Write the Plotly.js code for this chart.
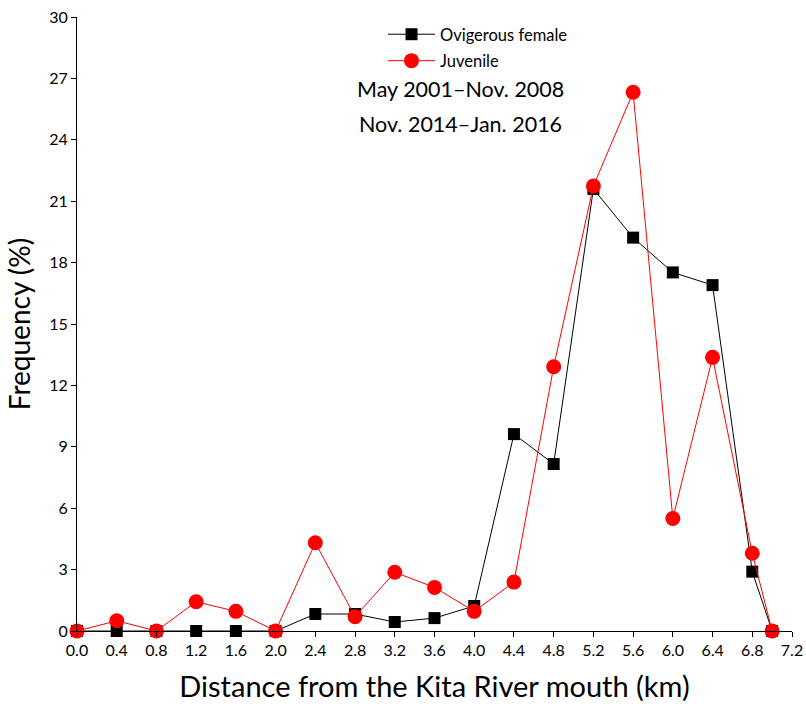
<!DOCTYPE html>
<html>
<head>
<meta charset="utf-8">
<script src="https://cdn.plot.ly/plotly-3.0.1.min.js"></script>
<style>
  html, body { margin: 0; padding: 0; background: #fff; }
  #chart { width: 806px; height: 713px; }
</style>
</head>
<body>
<div id="chart"></div>
<script>
// Distance from the river mouth (km)
const distanceKm = [0.0, 0.4, 0.8, 1.2, 1.6, 2.0, 2.4, 2.8, 3.2, 3.6, 4.0, 4.4, 4.8, 5.2, 5.6, 6.0, 6.4, 6.8, 7.0];

// Frequency (%) of ovigerous females at each distance
const ovigerousFemale = [0, 0, 0, 0, 0, 0, 0.83, 0.83, 0.44, 0.63, 1.22, 9.62, 8.16, 21.6, 19.22, 17.52, 16.9, 2.9, 0];

// Frequency (%) of juveniles at each distance
const juvenile = [0, 0.5, 0, 1.43, 0.96, 0, 4.31, 0.7, 2.87, 2.13, 0.96, 2.39, 12.91, 21.74, 26.32, 5.5, 13.37, 3.8, 0];

const xTicks = [0.0, 0.4, 0.8, 1.2, 1.6, 2.0, 2.4, 2.8, 3.2, 3.6, 4.0, 4.4, 4.8, 5.2, 5.6, 6.0, 6.4, 6.8, 7.2];
const yTicks = [0, 3, 6, 9, 12, 15, 18, 21, 24, 27, 30];

const periodLabels = ["May 2001\u2013Nov. 2008", "Nov. 2014\u2013Jan. 2016"];

const FONT = "Lato, 'Open Sans', sans-serif";

const traces = [
  {
    x: distanceKm, y: ovigerousFemale, name: "Ovigerous female", legendgroup: "female",
    type: "scatter", mode: "lines+markers", cliponaxis: false,
    line: { color: "#000000", width: 1 },
    marker: { symbol: "square", size: 12, color: "#000000" }
  },
  {
    x: distanceKm, y: juvenile, name: "Juvenile", legendgroup: "juvenile",
    type: "scatter", mode: "lines+markers", cliponaxis: false,
    line: { color: "#ff0000", width: 1 },
    marker: { symbol: "circle", size: 15, color: "#ff0000" }
  }
];

const layout = {
  width: 806, height: 713,
  margin: { l: 77, r: 14, t: 17, b: 82 },
  paper_bgcolor: "#ffffff", plot_bgcolor: "#ffffff",
  font: { family: FONT, color: "#000000" },
  showlegend: true,
  legend: {
    x: 0.428, y: 1.0, xanchor: "left", yanchor: "top",
    bgcolor: "rgba(0,0,0,0)", borderwidth: 0,
    font: { size: 16.5, family: FONT, color: "#000" },
    traceorder: "grouped", tracegroupgap: 2, itemwidth: 47
  },
  xaxis: {
    range: [0, 7.2], tickmode: "array", tickvals: xTicks,
    ticktext: xTicks.map(v => v.toFixed(1)),
    ticks: "outside", ticklen: 5, tickwidth: 1, tickcolor: "#000",
    showline: true, linecolor: "#000", linewidth: 1, mirror: false,
    showgrid: false, zeroline: false,
    tickfont: { size: 16, family: FONT },
    title: { text: "Distance from the Kita River mouth (km)", font: { size: 29, family: FONT }, standoff: 18 }
  },
  yaxis: {
    range: [0, 30], tickmode: "array", tickvals: yTicks,
    ticks: "outside", ticklen: 5, tickwidth: 1, tickcolor: "#000",
    showline: true, linecolor: "#000", linewidth: 1, mirror: false,
    showgrid: false, zeroline: false,
    tickfont: { size: 16, family: FONT },
    title: { text: "Frequency (%)", font: { size: 28, family: FONT }, standoff: 10 }
  },
  annotations: [
    { text: periodLabels[0], xref: "paper", yref: "paper", x: 0.536, y: 0.882,
      showarrow: false, xanchor: "center", yanchor: "middle", font: { size: 21.5, family: FONT } },
    { text: periodLabels[1], xref: "paper", yref: "paper", x: 0.536, y: 0.825,
      showarrow: false, xanchor: "center", yanchor: "middle", font: { size: 21.5, family: FONT } }
  ]
};

Plotly.newPlot("chart", traces, layout, { displayModeBar: false, staticPlot: true });
</script>
</body>
</html>
